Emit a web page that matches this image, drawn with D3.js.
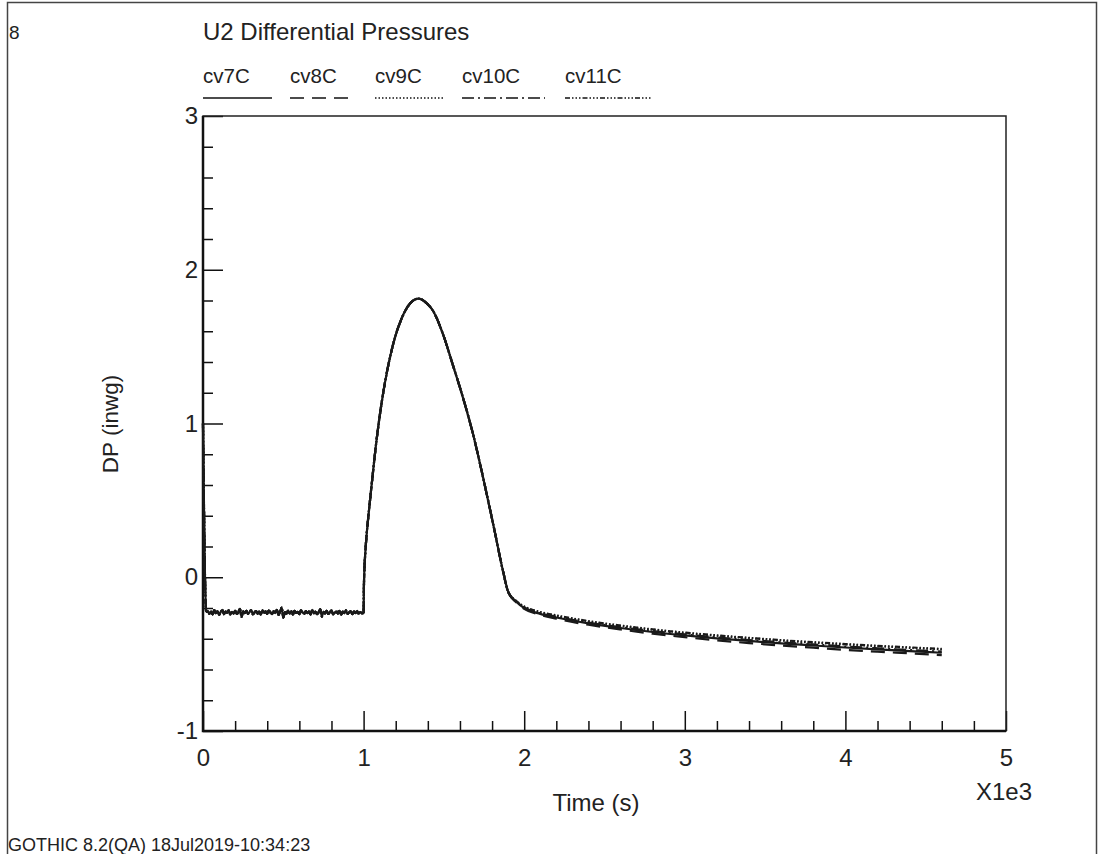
<!DOCTYPE html>
<html>
<head>
<meta charset="utf-8">
<script src="https://cdn.jsdelivr.net/npm/d3@7"></script>
<style>
  html, body { margin: 0; padding: 0; background: #fff; }
  svg text { font-family: "Liberation Sans", Arial, sans-serif; fill: #222; }
</style>
</head>
<body>
<svg id="chart" width="1098" height="854"></svg>
<script>
// ---- data -------------------------------------------------------------
const seriesNames = ["cv7C", "cv8C", "cv9C", "cv10C", "cv11C"];

// Start-up transient (s, inwg)
const startTime = [0, 20];
const startDP   = [1.0, -0.226];

// Quiet baseline, sampled every 10 s from 30 s to 990 s
const baseStart = 30;
const baseStep = 10;
const baseDP = [
  -0.219,-0.238,-0.224,-0.241,-0.214,-0.233,-0.221,-0.244,-0.226,-0.212,
  -0.240,-0.223,-0.231,-0.216,-0.243,-0.225,-0.235,-0.218,-0.237,-0.228,
  -0.205,-0.258,-0.222,-0.233,-0.219,-0.238,-0.225,-0.213,-0.241,-0.230,
  -0.220,-0.236,-0.224,-0.243,-0.215,-0.232,-0.222,-0.238,-0.217,-0.229,
  -0.240,-0.220,-0.233,-0.212,-0.245,-0.224,-0.198,-0.262,-0.227,-0.237,
  -0.217,-0.235,-0.222,-0.242,-0.219,-0.232,-0.225,-0.240,-0.214,-0.229,
  -0.238,-0.220,-0.233,-0.224,-0.242,-0.212,-0.236,-0.223,-0.240,-0.228,
  -0.208,-0.256,-0.225,-0.235,-0.219,-0.238,-0.228,-0.216,-0.241,-0.230,
  -0.222,-0.236,-0.219,-0.243,-0.224,-0.233,-0.216,-0.238,-0.228,-0.222,
  -0.240,-0.224,-0.234,-0.219,-0.238,-0.227,-0.235
];

// Pressure pulse, common to all five volumes
const pulseTime = [1000, 1002, 1005, 1010, 1020, 1035, 1050, 1081, 1113, 1154,
                   1194, 1237, 1289, 1341, 1390, 1434, 1496, 1559, 1621, 1683,
                   1745, 1808, 1869];
const pulseDP   = [-0.228, -0.060, 0.050, 0.150, 0.290, 0.450, 0.600, 0.895, 1.140, 1.380,
                   1.554, 1.684, 1.780, 1.812, 1.785, 1.730, 1.576, 1.370, 1.160, 0.925,
                   0.644, 0.340, 0.036];

// Long-term decay, per volume
const tailTime = [1900, 1950, 2000, 2100, 2200, 2400, 2600, 2800, 3000, 3200,
                  3400, 3600, 3800, 4000, 4200, 4400, 4600];
const cv7C  = [-0.094,-0.160,-0.200,-0.238,-0.262,-0.300,-0.330,-0.356,-0.378,-0.397,
               -0.414,-0.430,-0.444,-0.457,-0.469,-0.480,-0.491];
const cv8C  = [-0.094,-0.163,-0.205,-0.245,-0.270,-0.309,-0.340,-0.367,-0.390,-0.410,
               -0.428,-0.444,-0.458,-0.472,-0.484,-0.495,-0.506];
const cv9C  = [-0.094,-0.155,-0.192,-0.228,-0.250,-0.287,-0.316,-0.341,-0.362,-0.380,
               -0.396,-0.411,-0.425,-0.437,-0.448,-0.459,-0.469];
const cv10C = [-0.094,-0.158,-0.197,-0.234,-0.257,-0.295,-0.325,-0.350,-0.372,-0.391,
               -0.408,-0.423,-0.437,-0.450,-0.462,-0.473,-0.484];
const cv11C = [-0.094,-0.154,-0.190,-0.226,-0.248,-0.285,-0.314,-0.339,-0.360,-0.378,
               -0.394,-0.409,-0.422,-0.434,-0.446,-0.456,-0.466];

const xTickValues = [0, 1000, 2000, 3000, 4000, 5000];
const yTickValues = [-1, 0, 1, 2, 3];

// ---- assemble series --------------------------------------------------
const tails = { cv7C, cv8C, cv9C, cv10C, cv11C };
const commonPts = []
  .concat(startTime.map((t, i) => [t, startDP[i]]))
  .concat(baseDP.map((v, i) => [baseStart + i * baseStep, v]))
  .concat(pulseTime.map((t, i) => [t, pulseDP[i]]));
const series = seriesNames.map(name => ({
  name,
  points: commonPts.concat(tailTime.map((t, i) => [t, tails[name][i]]))
}));

const dashes = {
  cv7C: null,
  cv8C: "14,8",
  cv9C: "1.5,2",
  cv10C: "12,4,2,4",
  cv11C: "5,2,1.5,2,1.5,2,1.5,2"
};

// ---- layout -----------------------------------------------------------
const svg = d3.select("#chart");
const L = 203, R = 1006, T = 116, B = 731;

const x = d3.scaleLinear().domain([0, 5000]).range([L, R]);
const y = d3.scaleLinear().domain([-1, 3]).range([B, T]);

// page frame
svg.append("path")
  .attr("d", "M7.5,854V2.5H1096.5V854")
  .attr("fill", "none").attr("stroke", "#444").attr("stroke-width", 1.5);

// header
svg.append("text").attr("x", 9).attr("y", 39).attr("font-size", 19).text("8");
svg.append("text").attr("x", 203).attr("y", 40).attr("font-size", 24)
  .text("U2 Differential Pressures");

// legend
const legendX = [203, 290, 375, 462, 565];
const legendW = [69, 63, 70, 83, 87];
seriesNames.forEach((name, i) => {
  svg.append("text").attr("x", legendX[i]).attr("y", 83).attr("font-size", 20.5).text(name);
  svg.append("line")
    .attr("x1", legendX[i]).attr("x2", legendX[i] + legendW[i])
    .attr("y1", 98).attr("y2", 98)
    .attr("stroke", "#111").attr("stroke-width", 1.5)
    .attr("stroke-dasharray", dashes[name]);
});

// axes: major and minor ticks pointing into the plot
const minorX = d3.range(0, 5001, 200).filter(v => v % 1000 !== 0);
const minorY = d3.range(-1, 3.001, 0.2).map(v => +v.toFixed(1)).filter(v => v % 1 !== 0);

svg.append("g").attr("transform", `translate(0,${B})`)
  .call(d3.axisBottom(x).tickValues(minorX).tickSize(-10).tickFormat(""))
  .call(g => g.select(".domain").remove());
svg.append("g").attr("transform", `translate(${L},0)`)
  .call(d3.axisLeft(y).tickValues(minorY).tickSize(-10).tickFormat(""))
  .call(g => g.select(".domain").remove());

const xAxis = svg.append("g").attr("transform", `translate(0,${B})`)
  .call(d3.axisBottom(x).tickValues(xTickValues).tickSize(-20).tickPadding(18)
    .tickFormat(d => d / 1000));
const yAxis = svg.append("g").attr("transform", `translate(${L},0)`)
  .call(d3.axisLeft(y).tickValues(yTickValues).tickSize(-20).tickPadding(5)
    .tickFormat(d => d));

[xAxis, yAxis].forEach(g => {
  g.selectAll("text").attr("font-size", 24)
    .attr("font-family", "Liberation Sans, Arial, sans-serif").attr("fill", "#222");
  g.selectAll(".domain").remove();
});
svg.selectAll(".tick line").attr("stroke", "#111").attr("stroke-width", 1.5);

// plot frame
svg.append("rect")
  .attr("x", L).attr("y", T).attr("width", R - L).attr("height", B - T)
  .attr("fill", "none").attr("stroke", "#222").attr("stroke-width", 1.5);
svg.append("path")
  .attr("d", `M${L},${T}V${B}H${R}`)
  .attr("fill", "none").attr("stroke", "#111").attr("stroke-width", 2.5);

// curves
const line = d3.line().x(d => x(d[0])).y(d => y(d[1])).curve(d3.curveMonotoneX);
svg.append("g").selectAll("path").data(series).join("path")
  .attr("d", d => line(d.points))
  .attr("fill", "none")
  .attr("stroke", "#1a1a1a")
  .attr("stroke-width", 2.2)
  .attr("stroke-dasharray", d => dashes[d.name]);

// axis titles
svg.append("text")
  .attr("transform", "translate(118,424) rotate(-90)")
  .attr("text-anchor", "middle").attr("font-size", 22.5).text("DP (inwg)");
svg.append("text").attr("x", 596).attr("y", 811)
  .attr("text-anchor", "middle").attr("font-size", 24).text("Time (s)");
svg.append("text").attr("x", 1004).attr("y", 800)
  .attr("text-anchor", "middle").attr("font-size", 24).text("X1e3");

// footer
svg.append("text").attr("x", 8).attr("y", 851).attr("font-size", 18)
  .text("GOTHIC 8.2(QA) 18Jul2019-10:34:23");
</script>
</body>
</html>
